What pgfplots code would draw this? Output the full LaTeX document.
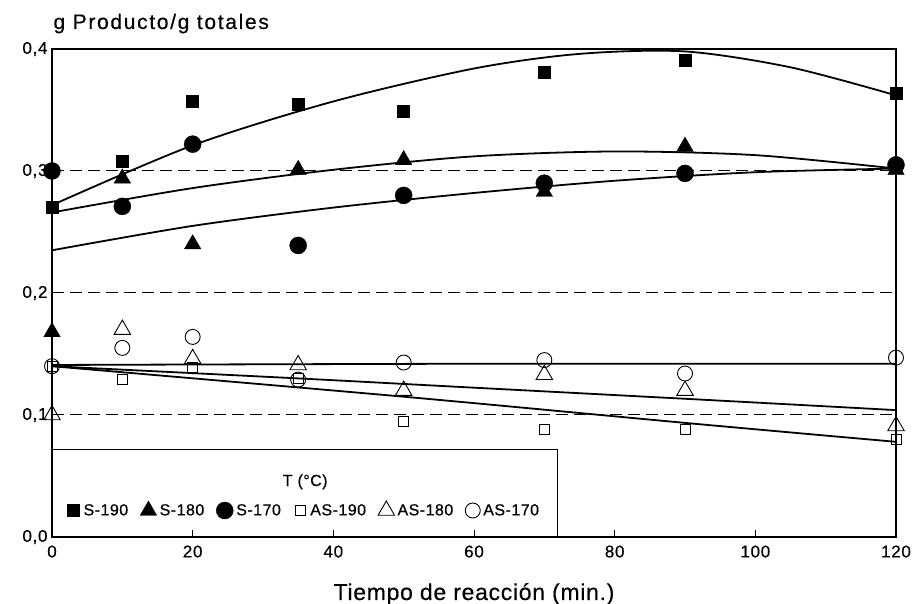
\documentclass[border=0pt]{standalone}
\usepackage{fontspec}
\setmainfont{Liberation Sans}
\newfontfamily\tickfont{Liberation Sans}[LetterSpace=4, FakeBold=0.5]
\newfontfamily\legfont{Liberation Sans}[LetterSpace=3, FakeBold=0.5]
\newfontfamily\labfont{Liberation Sans}[LetterSpace=3, FakeBold=0.4]
\newfontfamily\titfont{Liberation Sans}[LetterSpace=8, FakeBold=0.4]
\usepackage{pgfplots}
\pgfplotsset{compat=1.18}

\begin{document}
\begin{tikzpicture}
\useasboundingbox (-52pt,-67pt) rectangle (863pt,537pt);
\begin{axis}[
    scale only axis, width=844pt, height=488pt,
    xmin=0, xmax=120, ymin=0, ymax=0.4,
    xtick={0,20,40,60,80,100,120},
    ytick={0,0.1,0.2,0.3,0.4},
    /pgf/number format/assume math mode=true,
    yticklabel style={xshift=-1pt, /pgf/number format/.cd, fixed, fixed zerofill, precision=1, use comma},
    ticklabel style={font=\tickfont\fontsize{17}{20}\selectfont},
    xticklabel style={yshift=-5pt},
    xtick pos=bottom, tick align=inside, major tick length=7pt,
    xtick style={line width=1pt, black},
    ytick style={draw=none},
    axis line style={line width=1.3pt},
    ymajorgrids,
    major grid style={line width=1pt, dash pattern=on 12pt off 6pt, black},
    xlabel={Tiempo de reacción (min.)},
    xlabel style={at={(axis description cs:0.5,0)}, anchor=base, yshift=-63pt,
                  font=\labfont\fontsize{23}{26}\selectfont},
    clip=false,
    legend columns=6,
    legend image code/.code={\path (-7pt,0pt) (7pt,0pt); \draw[#1] plot coordinates {(0pt,0pt)};},
    legend style={at={(axis description cs:0,0.0553)}, anchor=west, xshift=14pt,
        draw=none, fill=none, inner sep=0pt, column sep=0pt,
        font=\legfont\fontsize{16}{19}\selectfont,
        /tikz/every odd column/.append style={column sep=1pt},
        /tikz/every even column/.append style={column sep=10pt}},
    fit/.style={smooth, line width=1.8pt, black, no marks, forget plot},
]
% fitted curves
\addplot[fit] coordinates {(0,0.272) (20,0.321) (40,0.357) (60,0.384) (75,0.396) (90,0.398) (105,0.385) (120,0.362)};
\addplot[fit] coordinates {(0,0.266) (20,0.286) (40,0.301) (60,0.312) (80,0.316) (100,0.313) (120,0.302)};
\addplot[fit] coordinates {(0,0.235) (20,0.255) (40,0.270) (60,0.282) (80,0.292) (100,0.299) (120,0.302)};
\addplot[fit] coordinates {(0,0.141) (60,0.142) (120,0.142)};
\addplot[fit] coordinates {(0,0.140) (35,0.130) (58,0.123) (91,0.113) (120,0.104)};
\addplot[fit] coordinates {(0,0.140) (50,0.115) (91,0.093) (120,0.078)};

\draw[line width=1pt] (axis cs:0,0) rectangle (axis cs:71.9,0.0721);
\node[anchor=base, font=\legfont\fontsize{16}{19}\selectfont] at (axis cs:36,0.0418) {T (°C)};
\node[anchor=base west, xshift=-2pt, yshift=20pt, font=\titfont\fontsize{21}{24}\selectfont]
    at (rel axis cs:0,1) {g Producto/g totales};

% measured points
\addplot[only marks, mark=square*, mark size=6pt, mark options={fill=black, draw=black}]
    coordinates {(0,0.270) (10,0.308) (20,0.357) (35,0.355) (50,0.349) (70,0.381) (90,0.391) (120,0.364)};
\addlegendentry{S-190}
\addplot[only marks, mark=triangle*, mark size=9.5pt, mark options={fill=black, draw=black}]
    coordinates {(0,0.168) (10,0.294) (20,0.240) (35,0.301) (50,0.309) (70,0.283) (90,0.320) (120,0.301)};
\addlegendentry{S-180}
\addplot[only marks, mark=*, mark size=8.5pt, mark options={fill=black, draw=black}]
    coordinates {(0,0.300) (10,0.271) (20,0.322) (35,0.239) (50,0.280) (70,0.290) (90,0.298) (120,0.305)};
\addlegendentry{S-170}
\addplot[only marks, mark=square, mark size=5pt, mark options={fill=white, draw=black, line width=0.9pt}]
    coordinates {(0,0.140) (10,0.129) (20,0.139) (35,0.130) (50,0.095) (70,0.088) (90,0.088) (120,0.080)};
\addlegendentry{AS-190}
\addplot[only marks, mark=triangle, mark size=9.5pt, mark options={fill=white, draw=black, line width=0.9pt}]
    coordinates {(0,0.100) (10,0.170) (20,0.146) (35,0.141) (50,0.120) (70,0.133) (90,0.120) (120,0.091)};
\addlegendentry{AS-180}
\addplot[only marks, mark=o, mark size=7.5pt, mark options={fill=white, draw=black, line width=0.9pt}]
    coordinates {(0,0.140) (10,0.155) (20,0.164) (35,0.129) (50,0.143) (70,0.145) (90,0.134) (120,0.147)};
\addlegendentry{AS-170}
\end{axis}
\end{tikzpicture}
\end{document}
